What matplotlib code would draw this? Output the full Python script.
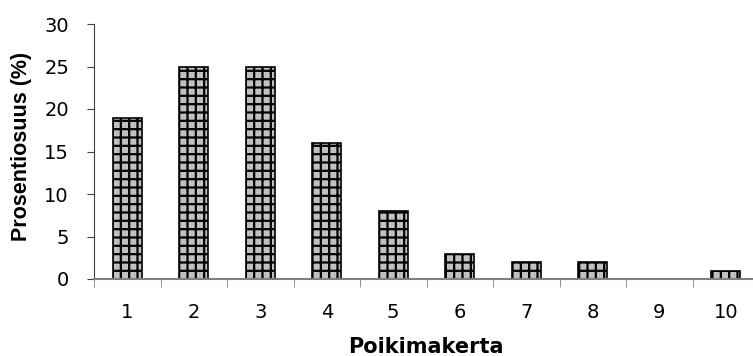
import matplotlib
matplotlib.use("Agg")
import matplotlib.pyplot as plt
import numpy as np

categories = ["1", "2", "3", "4", "5", "6", "7", "8", "9", "10"]
values = [19, 25, 25, 16, 8, 3, 2, 2, 0, 1]
yticks = [0, 5, 10, 15, 20, 25, 30]

plt.rcParams['font.family'] = ['DejaVu Sans']
plt.rcParams['hatch.linewidth'] = 1.6
plt.rcParams['hatch.color'] = 'black'

W, H = 753, 356
fig = plt.figure(figsize=(W/100, H/100), dpi=100)
ax = fig.add_axes([94/W, 1-279/H, 665/W, 255/H])

x = np.arange(1, len(categories)+1)
ax.bar(x, values, width=0.44, color='#c0c0c0', edgecolor='black',
       linewidth=1.2, hatch='++')

ax.set_xlim(0.5, 10.5)
ax.set_ylim(0, 30)
ax.set_yticks(yticks)
ax.set_yticklabels([str(v) for v in yticks], fontsize=14)
ax.set_xticks(x)
ax.set_xticklabels(categories, fontsize=14)
ax.set_xticks(np.arange(0.5, 11, 1), minor=True)
ax.tick_params(axis='x', which='major', length=0, pad=17)
ax.tick_params(axis='x', which='minor', length=6, color='#808080', direction='out')
ax.tick_params(axis='y', length=5, color='#404040', pad=13)

for s in ['top', 'right']:
    ax.spines[s].set_visible(False)
ax.spines['left'].set_color('#404040')
ax.spines['bottom'].set_color('#808080')
ax.spines['bottom'].set_linewidth(1.5)

fig.text(22/W, 1-146/H, "Prosentiosuus (%)", fontsize=15.5, fontweight='bold',
         rotation=90, ha='center', va='center', family='Liberation Sans')
fig.text(426/W, 1-353/H, "Poikimakerta", fontsize=15, fontweight='bold',
         ha='center', va='baseline')

fig.savefig("out.png", dpi=100)
